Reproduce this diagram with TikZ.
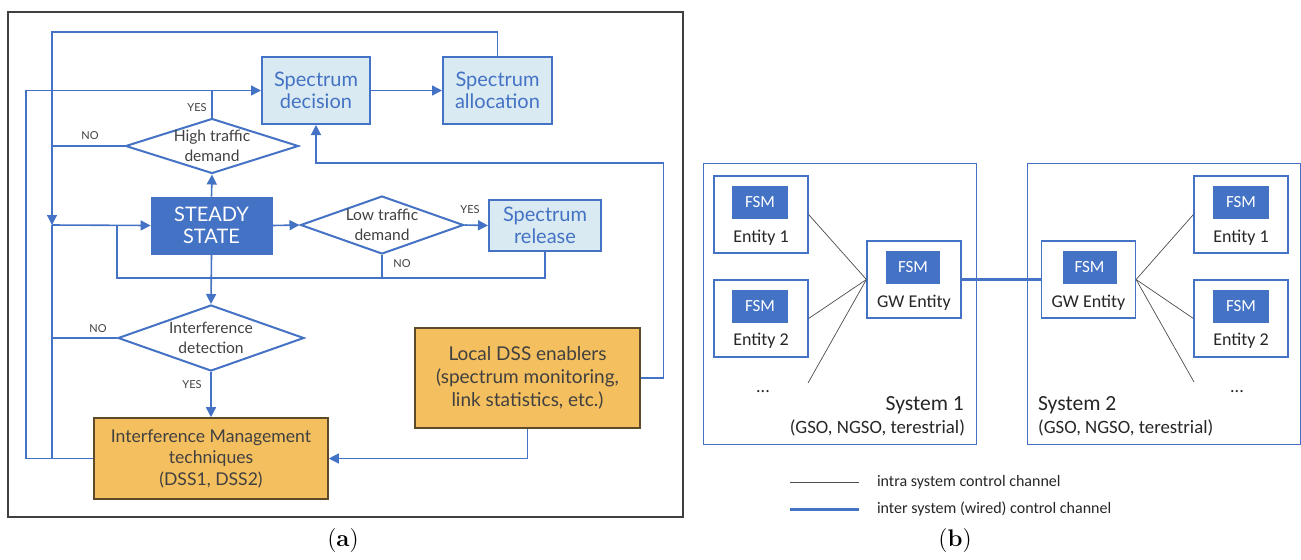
\documentclass[tikz,border=0pt]{standalone}
\usepackage{fontspec}
\setsansfont{Lato}
\newfontfamily\calibri{Carlito}
\usetikzlibrary{arrows.meta,shapes.geometric}
\definecolor{dssblue}{HTML}{4472C4}
\definecolor{dsslight}{HTML}{DAEAF2}
\definecolor{dssorange}{HTML}{F4BF5F}
\definecolor{dssbrown}{HTML}{5C4A28}
\definecolor{dssgray}{HTML}{404040}
\tikzset{
  flow/.style={draw=dssblue, line width=0.8pt},
  thinflow/.style={draw=dssblue, line width=0.6pt},
  lbox/.style={draw=dssblue, line width=1pt, fill=dsslight, text=dssblue, align=center, inner sep=0pt,
    font=\sffamily\fontsize{10}{11}\selectfont},
  sbox/.style={draw=dssblue, fill=dssblue, text=white, align=center, inner sep=0pt,
    font=\sffamily\fontsize{10}{11}\selectfont},
  obox/.style={draw=dssbrown, line width=0.8pt, fill=dssorange, text=dssgray, align=center, inner sep=0pt},
  dec/.style={diamond, draw=dssblue, line width=1pt, inner sep=0pt},
  dtext/.style={text=dssgray, align=center, font=\sffamily\fontsize{7.8}{10}\selectfont},
  yn/.style={text=dssgray, font=\sffamily\fontsize{5.5}{6}\selectfont},
  sysbox/.style={draw=dssblue, line width=0.5pt, inner sep=0pt},
  ent/.style={draw=dssblue, line width=0.6pt, fill=white, inner sep=0pt, minimum width=47pt, minimum height=38.5pt},
  fsm/.style={fill=dssblue, text=white, inner sep=0pt, minimum width=28pt, minimum height=16.5pt,
    font=\calibri\fontsize{8.5}{10}\selectfont},
  btext/.style={text=black!85, font=\calibri\fontsize{9}{10}\selectfont},
  legtext/.style={text=black!85, font=\calibri\fontsize{8}{10}\selectfont},
  intra/.style={draw=black!70, line width=0.35pt},
  inter/.style={draw=dssblue, line width=1.5pt}
}
\begin{document}
\begin{tikzpicture}[x=0.5pt, y=-0.5pt, >={Triangle[length=5pt,width=5pt]}]
\useasboundingbox (0,0) rectangle (1301,559);
\draw[dssgray, line width=0.8pt] (8,12) rectangle (683,517);

\node[lbox, minimum width=54pt, minimum height=33.5pt] (decision) at (316,90.5) {Spectrum\\decision};
\node[lbox, minimum width=54.5pt, minimum height=33.5pt] (allocation) at (497.5,90.5) {Spectrum\\allocation};
\node[sbox, minimum width=60.5pt, minimum height=28.5pt] (steady) at (211.5,225.5) {STEADY\\STATE};
\node[lbox, minimum width=56pt, minimum height=25.5pt] (release) at (545,225.5) {Spectrum\\release};
\node[obox, minimum width=117pt, minimum height=40.5pt, font=\sffamily\fontsize{8.8}{10.8}\selectfont] (im) at (211,458.5)
  {Interference Management\\techniques\\(DSS1, DSS2)};
\node[obox, minimum width=112.5pt, minimum height=50pt, font=\sffamily\fontsize{9.5}{11.5}\selectfont] (local) at (527.5,378)
  {Local DSS enablers\\(spectrum monitoring,\\link statistics, etc.)};

\node[dec, minimum width=86.5pt, minimum height=27.5pt] (high) at (212,146) {};
\node[dtext] at (high) {High traffic\\demand};
\node[dec, minimum width=81.5pt, minimum height=29pt] (low) at (382,225) {};
\node[dtext] at (low) {Low traffic\\demand};
\node[dec, minimum width=93pt, minimum height=33pt] (interf) at (211,338) {};
\node[dtext] at (interf) {Interference\\detection};

\coordinate (ja) at (52,225);
\coordinate (jb) at (117,225);

\draw[flow,->] (decision) -- (allocation);
\draw[thinflow,->] (allocation.north) -- ++(0,-24) -| (ja);
\draw[flow,->] (ja) -- (steady.west);
\draw[flow] (ja) -- (ja |- im.west);
\draw[flow,->] (im.west) -- ++(-67,0) |- (decision.west);
\draw[flow] (high.north) -- (high.north |- decision.west);
\draw[flow] (high.west) -- (high.west -| ja);
\draw[flow,->] (steady.north) -- (high.south);
\draw[flow,->] (steady.east) -- (low.west);
\draw[flow,->] (low.east) -- (release.west);
\draw[flow] (release.south) -- ++(0,26) -| (jb);
\draw[flow] (low.south) -- ++(0,23);
\draw[flow,->] (steady.south) -- (interf.north);
\draw[flow] (interf.west) -- (interf.west -| ja);
\draw[flow,->] (interf.south) -- (im.north);
\draw[thinflow,->] (local.east) -| ++(23,-215) -| (decision.south);
\draw[thinflow,->] (local.south) |- (im.east);

\node[yn] at (197,108) {YES};
\node[yn] at (90,136) {NO};
\node[yn] at (470,210) {YES};
\node[yn] at (402,264) {NO};
\node[yn] at (98,329) {NO};
\node[yn] at (192,385) {YES};
\node[font=\rmfamily\fontsize{12}{14}\selectfont] (capa) at (343,540) {(\textbf{a})};

\node[sysbox, minimum width=136.5pt, minimum height=140.5pt] (sys1) at (839.5,303.5) {};
\node[sysbox, minimum width=136.5pt, minimum height=140.5pt] (sys2) at (1163.5,303.5) {};

\node[ent] (e11) at (761,214.5) {};
\node[fsm] at (760,202.5) {FSM};
\node[btext] at (761,238) {Entity 1};
\node[ent] (e12) at (761,318.5) {};
\node[fsm] at (760,306) {FSM};
\node[btext] at (761,341) {Entity 2};
\node[btext] at (763,392) {...};
\node[ent] (gw1) at (914,279.5) {};
\node[fsm, minimum width=27pt] at (913,267.5) {FSM};
\node[btext] at (914,303) {GW Entity};
\node[btext, anchor=east] at (971,405) {\fontsize{10.8}{12}\selectfont System 1};
\node[btext, anchor=east] at (972,428) {\fontsize{9.4}{11}\selectfont (GSO, NGSO, terestrial)};

\node[ent] (gw2) at (1088.5,279.5) {};
\node[fsm, minimum width=27pt] at (1089.5,267.5) {FSM};
\node[btext] at (1088.5,303) {GW Entity};
\node[ent] (e21) at (1241,214.5) {};
\node[fsm] at (1241,202.5) {FSM};
\node[btext] at (1241,238) {Entity 1};
\node[ent] (e22) at (1241,318.5) {};
\node[fsm] at (1241,306) {FSM};
\node[btext] at (1241,341) {Entity 2};
\node[btext] at (1237,392) {...};
\node[btext, anchor=west] at (1031,405) {\fontsize{10.8}{12}\selectfont System 2};
\node[btext, anchor=west] at (1031,428) {\fontsize{9.4}{11}\selectfont (GSO, NGSO, terestrial)};

\coordinate (d1) at (808,383);
\coordinate (d2) at (1194,382);
\draw[intra] (e11.east) -- (gw1.west);
\draw[intra] (e12.east) -- (gw1.west);
\draw[intra] (d1) -- (gw1.west);
\draw[intra] (gw2.east) -- (e21.west);
\draw[intra] (gw2.east) -- (e22.west);
\draw[intra] (gw2.east) -- (d2);
\draw[inter] (gw1.east) -- (gw2.west);

\coordinate (lg1a) at (790,482);
\coordinate (lg1b) at (859,482);
\coordinate (lg2a) at (790,509);
\coordinate (lg2b) at (859,509);
\draw[intra] (lg1a) -- (lg1b);
\draw[inter] (lg2a) -- (lg2b);
\node[legtext, anchor=west] at (870,482) {intra system control channel};
\node[legtext, anchor=west] at (870,509) {inter system (wired) control channel};
\node[font=\rmfamily\fontsize{12}{14}\selectfont] (capb) at (955,540) {(\textbf{b})};
\end{tikzpicture}
\end{document}
